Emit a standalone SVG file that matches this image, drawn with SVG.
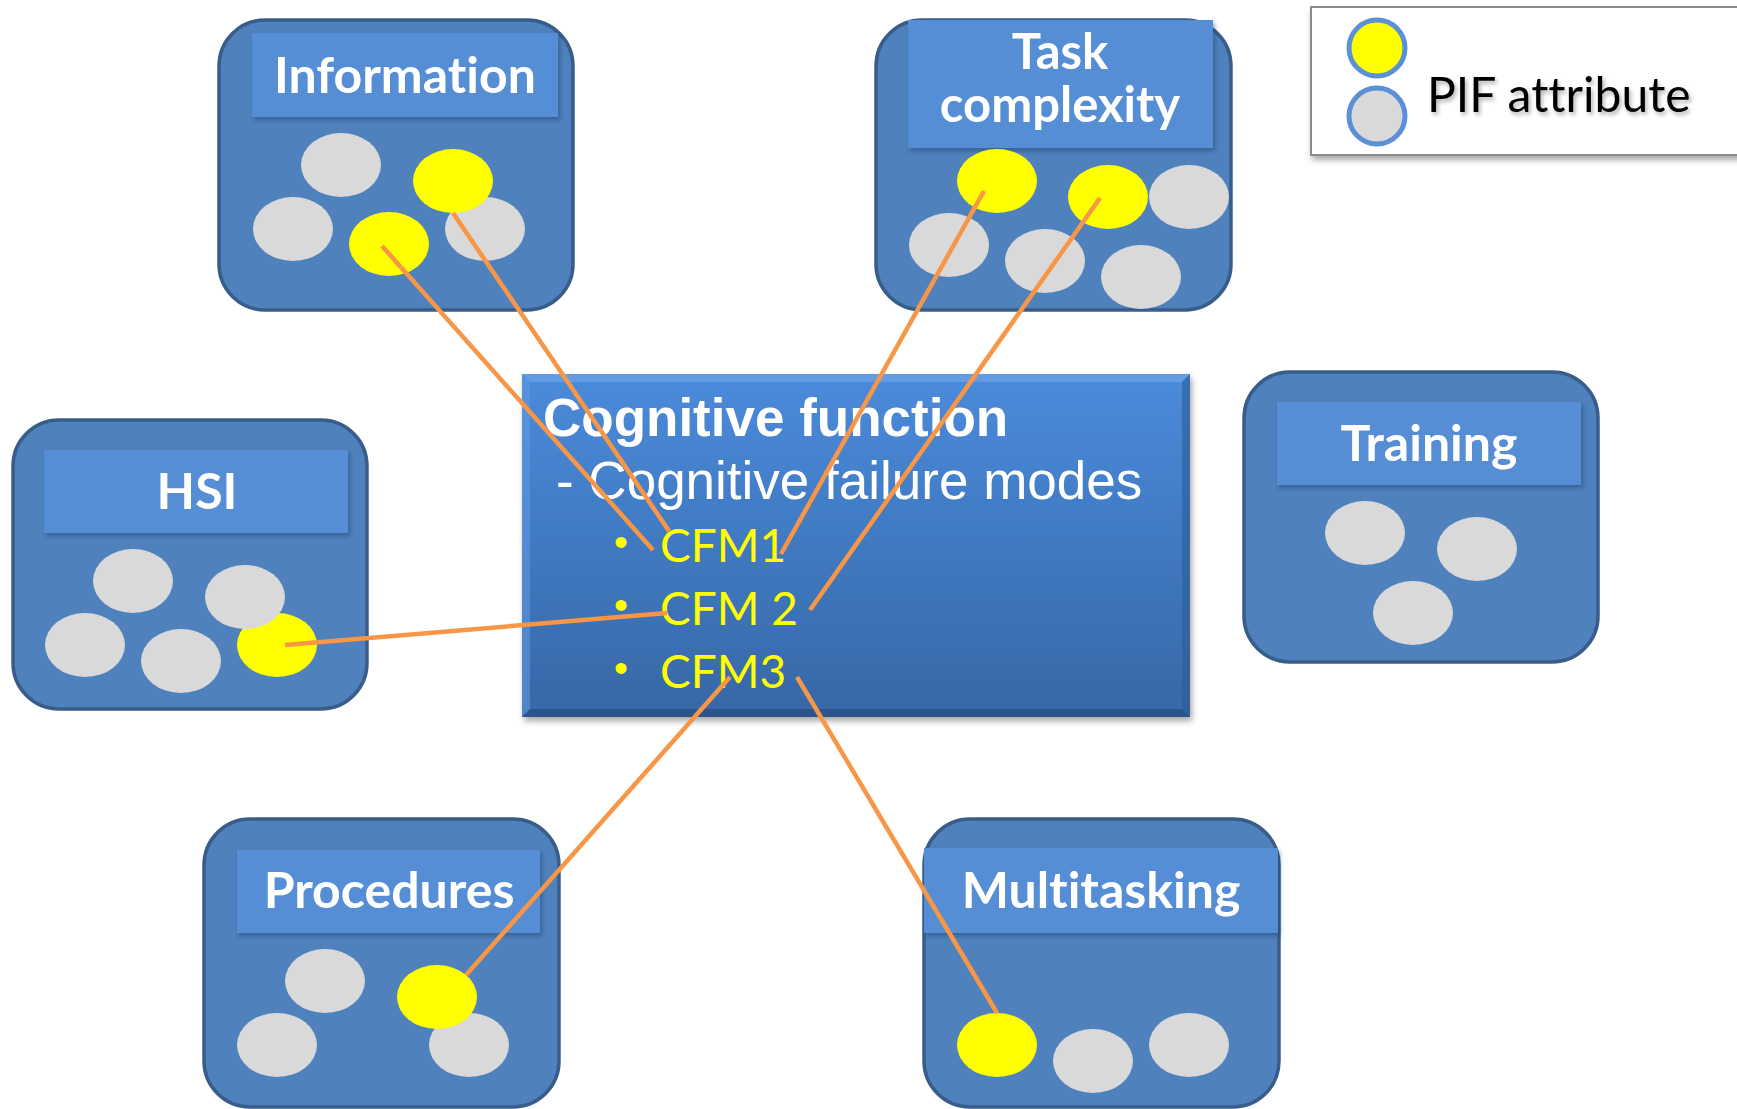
<svg xmlns="http://www.w3.org/2000/svg" width="1737" height="1109" viewBox="0 0 1737 1109">
  <defs>
    <linearGradient id="cfGrad" x1="0" y1="0" x2="0" y2="1">
      <stop offset="0" stop-color="#4A8BDB"/>
      <stop offset="1" stop-color="#3767A6"/>
    </linearGradient>
    <filter id="hdrShadow" x="-5%" y="-10%" width="112%" height="130%">
      <feDropShadow dx="2" dy="3" stdDeviation="2" flood-color="#1F3A5F" flood-opacity="0.45"/>
    </filter>
    <filter id="boxShadow" x="-5%" y="-5%" width="112%" height="115%">
      <feDropShadow dx="2" dy="4" stdDeviation="3" flood-color="#000" flood-opacity="0.35"/>
    </filter>
    <filter id="txtShadow" x="-5%" y="-10%" width="112%" height="130%">
      <feDropShadow dx="2" dy="3" stdDeviation="2" flood-color="#000" flood-opacity="0.3"/>
    </filter>
  </defs>
  <style>
    text { font-variant-ligatures: none; }
    .node { fill: #4F81BD; stroke: #385D8A; stroke-width: 3.5; }
    .hdr { fill: #558ED5; filter: url(#hdrShadow); }
    .hdrText { font-family: Lato, "Open Sans", sans-serif; font-weight: bold; font-size: 50px; fill: #FFFFFF; text-anchor: middle; }
    .gray { fill: #D9D9D9; }
    .yel { fill: #FFFF00; }
    .link { stroke: #F79646; stroke-width: 4.5; fill: none; stroke-linecap: butt; }
    .cfTitle { font-family: "Liberation Sans", Arial, sans-serif; font-weight: bold; font-size: 53px; fill: #FFFFFF; }
    .cfSub { font-family: "Liberation Sans", Arial, sans-serif; font-size: 53px; fill: #FFFFFF; }
    .cfm { font-family: Lato, "Open Sans", sans-serif; font-size: 46px; fill: #FFFF00; }
    .bullet { font-family: "Liberation Sans", Arial, sans-serif; font-size: 40px; fill: #FFFF00; }
    .legendText { font-family: Lato, "Open Sans", sans-serif; font-size: 48px; fill: #000000; filter: url(#txtShadow); }
    .legendDot { stroke: #5B8FD6; stroke-width: 5; }
  </style>

  <rect width="1737" height="1109" fill="#FFFFFF"/>

  <!-- Legend -->
  <g id="legend">
    <rect x="1311" y="7" width="440" height="148" fill="#FFFFFF" stroke="#8C8C8C" stroke-width="2" filter="url(#boxShadow)"/>
    <circle class="yel legendDot" cx="1377" cy="48" r="28"/>
    <circle class="gray legendDot" cx="1377" cy="116" r="28"/>
    <text class="legendText" x="1427" y="112">PIF attribute</text>
  </g>

  <!-- Information -->
  <g id="node-information">
    <rect class="node" x="219" y="20" width="354" height="290" rx="46"/>
    <rect class="hdr" x="252" y="33" width="306" height="84"/>
    <text class="hdrText" x="405" y="93">Information</text>
    <ellipse class="gray" cx="341" cy="165" rx="40" ry="32"/>
    <ellipse class="gray" cx="293" cy="229" rx="40" ry="32"/>
    <ellipse class="gray" cx="485" cy="229" rx="40" ry="32"/>
    <ellipse class="yel" cx="453" cy="181" rx="40" ry="32"/>
    <ellipse class="yel" cx="389" cy="244" rx="40" ry="32"/>
  </g>

  <!-- Task complexity: two-line header -->
  <g id="node-task-complexity">
    <rect class="node" x="876" y="20" width="355" height="290" rx="46"/>
    <rect class="hdr" x="908" y="20" width="305" height="128"/>
    <text class="hdrText" x="1060" y="69" style="font-size:49px">Task</text>
    <text class="hdrText" x="1060" y="122" style="font-size:49px">complexity</text>
    <ellipse class="gray" cx="949" cy="245" rx="40" ry="32"/>
    <ellipse class="gray" cx="1045" cy="261" rx="40" ry="32"/>
    <ellipse class="gray" cx="1141" cy="277" rx="40" ry="32"/>
    <ellipse class="gray" cx="1189" cy="197" rx="40" ry="32"/>
    <ellipse class="yel" cx="997" cy="181" rx="40" ry="32"/>
    <ellipse class="yel" cx="1108" cy="197" rx="40" ry="32"/>
  </g>

  <!-- HSI -->
  <g id="node-hsi">
    <rect class="node" x="13" y="420" width="354" height="289" rx="46"/>
    <rect class="hdr" x="44" y="450" width="304" height="83"/>
    <text class="hdrText" x="197" y="509">HSI</text>
    <ellipse class="gray" cx="133" cy="581" rx="40" ry="32"/>
    <ellipse class="gray" cx="85" cy="645" rx="40" ry="32"/>
    <ellipse class="gray" cx="181" cy="661" rx="40" ry="32"/>
    <ellipse class="yel" cx="277" cy="645" rx="40" ry="32"/>
    <ellipse class="gray" cx="245" cy="597" rx="40" ry="32"/>
  </g>

  <!-- Training -->
  <g id="node-training">
    <rect class="node" x="1244" y="372" width="354" height="290" rx="46"/>
    <rect class="hdr" x="1277" y="402" width="304" height="83"/>
    <text class="hdrText" x="1429" y="461">Training</text>
    <ellipse class="gray" cx="1365" cy="533" rx="40" ry="32"/>
    <ellipse class="gray" cx="1477" cy="549" rx="40" ry="32"/>
    <ellipse class="gray" cx="1413" cy="613" rx="40" ry="32"/>
  </g>

  <!-- Procedures -->
  <g id="node-procedures">
    <rect class="node" x="204" y="819" width="355" height="288" rx="46"/>
    <rect class="hdr" x="237" y="850" width="303" height="83"/>
    <text class="hdrText" x="389" y="908">Procedures</text>
    <ellipse class="gray" cx="325" cy="981" rx="40" ry="32"/>
    <ellipse class="gray" cx="277" cy="1045" rx="40" ry="32"/>
    <ellipse class="gray" cx="469" cy="1045" rx="40" ry="32"/>
    <ellipse class="yel" cx="437" cy="997" rx="40" ry="32"/>
  </g>

  <!-- Multitasking -->
  <g id="node-multitasking">
    <rect class="node" x="924" y="819" width="355" height="288" rx="46"/>
    <rect class="hdr" x="924" y="848" width="354" height="85"/>
    <text class="hdrText" x="1101" y="908">Multitasking</text>
    <ellipse class="yel" cx="997" cy="1045" rx="40" ry="32"/>
    <ellipse class="gray" cx="1093" cy="1061" rx="40" ry="32"/>
    <ellipse class="gray" cx="1189" cy="1045" rx="40" ry="32"/>
  </g>

  <!-- Cognitive function with its failure modes -->
  <g id="node-cognitive-function">
    <rect x="522" y="374" width="668" height="343" fill="url(#cfGrad)" filter="url(#boxShadow)"/>
    <!-- bevelled rim -->
    <polygon points="522,374 1190,374 1182,382 530,382" fill="#6FA4E6" opacity="0.7"/>
    <polygon points="522,374 530,382 530,709 522,717" fill="#5F98DF" opacity="0.6"/>
    <polygon points="1190,374 1190,717 1182,709 1182,382" fill="#2F5C96" opacity="0.6"/>
    <polygon points="522,717 530,709 1182,709 1190,717" fill="#274F85" opacity="0.8"/>
    <text class="cfTitle" x="543" y="436">Cognitive function</text>
    <text class="cfSub" x="556" y="499">- Cognitive failure modes</text>
    <text class="bullet" x="614" y="556">•</text>
    <text class="cfm" x="660" y="562">CFM1</text>
    <text class="bullet" x="614" y="619">•</text>
    <text class="cfm" x="660" y="625">CFM 2</text>
    <text class="bullet" x="614" y="682">•</text>
    <text class="cfm" x="660" y="688">CFM3</text>
  </g>

  <!-- Links from PIF attributes to failure modes -->
  <g id="connectors">
    <line class="link" x1="382" y1="246" x2="653" y2="550"/>
    <line class="link" x1="453" y1="213" x2="669" y2="531"/>
    <line class="link" x1="984" y1="191" x2="781" y2="554"/>
    <line class="link" x1="1100" y1="198" x2="810" y2="610"/>
    <line class="link" x1="285" y1="645" x2="667" y2="613"/>
    <line class="link" x1="466" y1="975" x2="730" y2="677"/>
    <line class="link" x1="797" y1="677" x2="997" y2="1013"/>
  </g>
</svg>
